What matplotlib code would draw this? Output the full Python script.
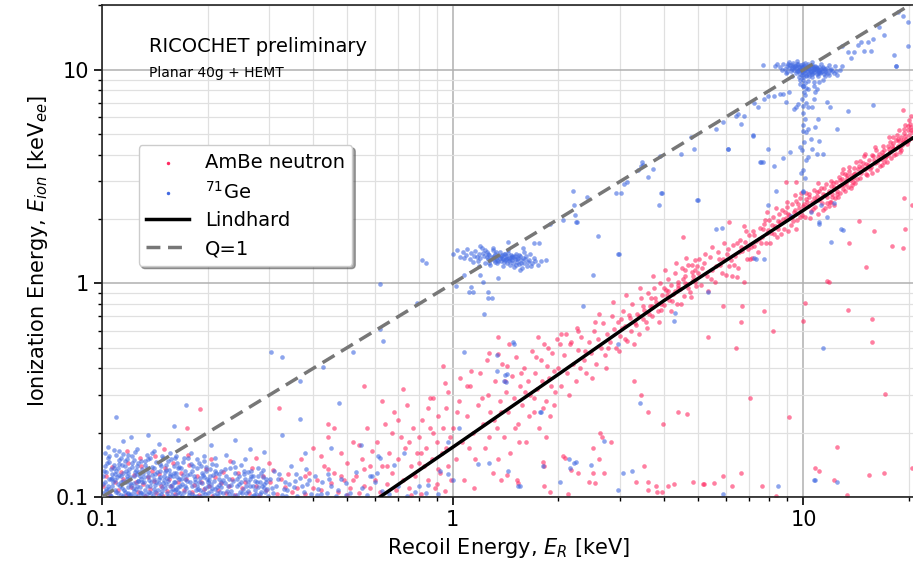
import numpy as np
import matplotlib
matplotlib.use('Agg')
import matplotlib.pyplot as plt
from matplotlib.ticker import FuncFormatter, LogLocator

# recoil energy [keV], ionization energy [keVee]

# AmBe neutron band, 10-20 keV
ambe_band_hi = [
    (10.1,2.05),(10.2,2.48),(10.3,2.31),(10.4,2.62),(10.5,2.18),(10.6,2.40),(10.7,2.75),(10.8,2.29),(10.9,2.56),(11.0,2.12),
    (11.1,2.47),(11.2,2.81),(11.3,2.38),(11.4,2.63),(11.5,2.25),(11.6,2.92),(11.7,2.55),(11.8,2.70),(11.9,2.41),(12.0,3.02),
    (12.1,2.61),(12.2,2.84),(12.3,2.50),(12.4,2.97),(12.5,2.72),(12.6,3.15),(12.7,2.66),(12.8,2.90),(12.9,3.08),(13.0,2.78),
    (13.1,3.24),(13.2,2.95),(13.3,3.12),(13.4,2.83),(13.5,3.35),(13.6,3.05),(13.7,3.21),(13.8,2.98),(13.9,3.48),(14.0,3.30),
    (14.2,3.07),(14.4,3.55),(14.6,3.28),(14.8,3.68),(15.0,3.42),(15.2,3.20),(15.4,3.79),(15.6,3.52),(15.8,3.95),(16.0,3.66),
    (16.2,3.40),(16.4,4.05),(16.6,3.81),(16.8,3.60),(17.0,4.20),(17.2,3.95),(17.4,4.38),(17.6,4.10),(17.8,3.85),(18.0,4.52),
    (18.2,4.25),(18.4,4.70),(18.6,4.40),(18.8,4.12),(19.0,4.85),(19.2,4.58),(19.4,5.05),(19.6,4.72),(19.8,5.25),(20.0,4.95),
    (20.2,5.40),(20.4,5.10),
    (10.15,2.65),(10.45,2.02),(10.75,2.52),(11.05,2.72),(11.35,2.20),(11.65,2.38),(11.95,2.85),(12.25,2.33),(12.55,2.55),
    (12.85,3.30),(13.15,2.70),(13.45,3.50),(13.75,2.88),(14.1,3.70),(14.5,3.10),(14.9,3.95),(15.3,3.60),(15.7,3.30),
    (16.1,4.20),(16.5,3.55),(16.9,4.40),(17.3,3.72),(17.7,4.60),(18.1,3.98),(18.5,4.95),(18.9,4.30),(19.3,5.30),(19.7,4.48),
    (20.1,5.60),(19.5,5.50),(18.7,5.20),(17.5,4.85),(19.2,6.50),(20.3,6.10),(8.9,2.97),(9.5,2.97),
    (10.05,2.35),(10.35,2.55),(10.65,2.22),(10.95,2.68),(11.25,2.50),(11.55,2.60),(11.85,2.30),(12.15,2.95),(12.45,2.62),(12.75,3.05),
    (13.05,2.88),(13.35,3.20),(13.65,2.80),(13.95,3.25),(14.3,3.42),(14.7,3.50),(15.1,3.62),(15.5,3.45),(15.9,3.78),(16.3,3.90),
    (16.7,4.10),(17.1,3.85),(17.5,4.25),(17.9,4.40),(18.3,4.05),(18.7,4.62),(19.1,4.45),(19.5,4.90),(19.9,4.65),(20.3,5.25),
    (10.25,2.40),(10.85,2.45),(11.45,2.80),(12.05,2.55),(12.65,2.85),(13.25,3.00),(13.85,3.10),(14.45,3.75),(15.05,3.25),(15.65,4.00),
    (16.25,3.70),(16.85,4.00),(17.45,4.00),(18.05,4.30),(18.65,4.75),(19.25,4.70),(19.85,5.45),(20.45,4.80),(11.0,2.95),(12.0,2.40),
    (13.0,3.45),(14.0,2.95),(15.0,4.05),(16.0,4.35),(17.0,3.70),(18.0,4.85),(19.0,4.20),(20.0,5.80),
]

# AmBe neutron band, 2-10 keV
ambe_band_mid = [
    (5.0,1.12),(5.1,0.98),(5.2,1.25),(5.3,1.08),(5.4,1.33),(5.5,1.15),(5.6,1.02),(5.7,1.40),(5.8,1.22),(5.9,1.30),
    (6.0,1.10),(6.1,1.45),(6.2,1.28),(6.3,1.52),(6.4,1.35),(6.5,1.18),(6.6,1.60),(6.7,1.42),(6.8,1.56),(6.9,1.30),
    (7.0,1.68),(7.1,1.48),(7.2,1.75),(7.3,1.58),(7.4,1.40),(7.5,1.82),(7.6,1.65),(7.7,1.90),(7.8,1.55),(7.9,1.78),
    (8.0,1.97),(8.1,1.72),(8.2,2.05),(8.3,1.85),(8.4,1.65),(8.5,2.12),(8.6,1.93),(8.7,2.20),(8.8,1.80),(8.9,2.02),
    (9.0,2.28),(9.1,2.08),(9.2,1.88),(9.3,2.35),(9.4,2.15),(9.5,2.42),(9.6,1.98),(9.7,2.25),(9.8,2.50),(9.9,2.10),
    (5.05,1.30),(5.35,0.92),(5.65,1.20),(5.95,1.55),(6.25,1.08),(6.55,1.40),(6.85,1.75),(7.15,1.32),(7.45,1.62),
    (7.75,1.98),(8.05,1.55),(8.35,2.25),(8.65,1.70),(8.95,2.40),(9.25,2.05),(9.55,1.80),(9.85,2.65),(6.15,1.20),
    (7.25,1.50),(8.45,1.95),(9.45,2.60),(5.5,1.48),(6.75,1.85),(7.85,2.15),(9.05,1.75),
    (5.15,1.18),(5.45,1.05),(5.75,1.30),(6.05,1.38),(6.35,1.22),(6.65,1.48),(6.95,1.45),(7.25,1.68),(7.55,1.55),(7.85,1.72),
    (8.15,1.88),(8.45,1.80),(8.75,2.00),(9.05,2.12),(9.35,1.95),(9.65,2.35),(9.95,2.30),(5.25,1.38),(5.85,1.12),(6.45,1.55),
    (7.05,1.30),(7.65,1.80),(8.25,1.70),(8.85,2.15),(9.45,2.20),(9.75,2.05),
    (2.00,0.40),(2.04,0.33),(2.08,0.46),(2.12,0.38),(2.16,0.52),(2.20,0.42),(2.24,0.35),(2.28,0.49),(2.32,0.56),(2.36,0.44),
    (2.40,0.38),(2.44,0.53),(2.48,0.47),(2.52,0.60),(2.56,0.42),(2.60,0.55),(2.64,0.50),(2.68,0.65),(2.72,0.46),(2.76,0.58),
    (2.80,0.53),(2.84,0.70),(2.88,0.61),(2.92,0.50),(2.96,0.66),(3.00,0.57),(3.05,0.74),(3.10,0.63),(3.15,0.54),(3.20,0.69),
    (3.25,0.80),(3.30,0.65),(3.35,0.72),(3.40,0.58),(3.45,0.85),(3.50,0.75),(3.55,0.66),(3.60,0.90),(3.65,0.78),(3.70,0.70),
    (3.75,0.95),(3.80,0.82),(3.85,0.74),(3.90,1.00),(3.95,0.88),(4.00,0.79),(4.05,0.93),(4.10,1.05),(4.15,0.84),(4.20,0.98),
    (4.25,0.89),(4.30,1.12),(4.35,0.80),(4.40,1.02),(4.45,0.94),(4.50,1.18),(4.55,0.87),(4.60,1.08),(4.65,0.99),(4.70,1.22),
    (4.75,0.91),(4.80,1.13),(4.85,1.04),(4.90,1.28),(4.95,0.97),
    (2.02,0.52),(2.14,0.30),(2.26,0.62),(2.38,0.48),(2.50,0.36),(2.62,0.72),(2.74,0.40),(2.86,0.82),(2.98,0.48),(3.12,0.88),
    (3.28,0.52),(3.42,0.95),(3.58,0.62),(3.72,1.08),(3.88,0.66),(4.02,1.15),(4.18,0.74),(4.32,1.25),(4.48,0.80),(4.62,1.32),
    (4.78,0.86),(4.92,1.15),(2.10,0.58),(2.30,0.40),(2.55,0.66),(2.78,0.50),(3.02,0.68),(3.22,0.60),(3.48,0.68),(3.68,0.85),
    (3.92,0.80),(4.12,0.92),(4.38,0.95),(4.58,1.00),(4.82,1.22),(2.03,0.58),(2.27,0.60),(2.17,0.53),(4.53,1.64),(6.13,1.93),
    (3.03,0.62),(3.18,0.71),(3.33,0.64),(3.48,0.78),(3.63,0.72),(3.78,0.85),(3.93,0.75),(4.08,0.88),(4.23,0.83),(4.38,0.98),
    (4.53,1.05),(4.68,0.95),(4.83,1.08),(4.97,1.20),(3.10,0.55),(3.40,0.70),(3.70,0.78),(4.00,0.95),(4.30,0.92),(4.60,1.15),
    (4.90,1.02),
]

# AmBe neutron, 0.1-2 keV
ambe_low = [
    (1.00,0.21),(1.02,0.15),(1.04,0.28),(1.06,0.18),(1.08,0.12),(1.10,0.24),(1.12,0.33),(1.14,0.20),(1.16,0.15),(1.18,0.27),
    (1.20,0.38),(1.22,0.22),(1.24,0.17),(1.26,0.30),(1.28,0.25),(1.30,0.13),(1.32,0.35),(1.34,0.21),(1.36,0.28),(1.38,0.42),
    (1.40,0.19),(1.42,0.31),(1.44,0.25),(1.46,0.16),(1.48,0.37),(1.50,0.29),(1.52,0.45),(1.54,0.22),(1.56,0.33),(1.58,0.27),
    (1.60,0.40),(1.62,0.18),(1.64,0.35),(1.66,0.30),(1.68,0.48),(1.70,0.25),(1.72,0.38),(1.74,0.32),(1.76,0.21),(1.78,0.44),
    (1.80,0.35),(1.82,0.52),(1.84,0.28),(1.86,0.41),(1.88,0.36),(1.90,0.24),(1.92,0.47),(1.94,0.39),(1.96,0.31),(1.98,0.55),
    (1.05,0.36),(1.15,0.11),(1.25,0.44),(1.35,0.15),(1.45,0.52),(1.55,0.18),(1.65,0.24),(1.75,0.56),(1.85,0.19),(1.95,0.27),
    (1.11,0.17),(1.21,0.29),(1.31,0.23),(1.41,0.35),(1.51,0.21),(1.61,0.31),(1.71,0.29),(1.81,0.26),(1.91,0.33),(1.03,0.25),
    (1.13,0.39),(1.27,0.19),(1.43,0.41),(1.57,0.38),(1.73,0.45),(1.87,0.50),(1.35,0.465),(1.27,0.47),(1.35,0.56),(0.94,0.41),
    (1.10,0.33),(0.97,0.31),(0.88,0.29),(0.56,0.33),(0.44,0.22),(0.32,0.26),(0.175,0.21),
    (0.60,0.12),(0.61,0.18),(0.62,0.105),(0.63,0.14),(0.64,0.22),(0.65,0.115),(0.66,0.16),(0.67,0.13),(0.68,0.25),(0.69,0.108),
    (0.70,0.15),(0.71,0.19),(0.72,0.12),(0.73,0.17),(0.74,0.27),(0.75,0.11),(0.76,0.14),(0.77,0.21),(0.78,0.125),(0.79,0.16),
    (0.80,0.19),(0.81,0.103),(0.82,0.23),(0.83,0.14),(0.84,0.17),(0.85,0.12),(0.86,0.29),(0.87,0.15),(0.88,0.20),(0.89,0.11),
    (0.90,0.18),(0.91,0.24),(0.92,0.13),(0.93,0.16),(0.94,0.21),(0.95,0.107),(0.96,0.26),(0.97,0.14),(0.98,0.19),(0.99,0.12),
    (0.63,0.28),(0.67,0.20),(0.72,0.32),(0.76,0.102),(0.81,0.16),(0.86,0.21),(0.91,0.135),(0.96,0.17),(0.65,0.14),(0.70,0.23),
    (0.75,0.18),(0.80,0.145),(0.85,0.26),(0.90,0.115),(0.95,0.34),
    (0.36,0.11),(0.37,0.15),(0.38,0.103),(0.39,0.13),(0.40,0.17),(0.41,0.12),(0.42,0.108),(0.43,0.14),(0.44,0.19),(0.45,0.116),
    (0.46,0.13),(0.47,0.105),(0.48,0.16),(0.49,0.12),(0.50,0.145),(0.51,0.11),(0.52,0.18),(0.53,0.125),(0.54,0.104),(0.55,0.15),
    (0.56,0.135),(0.57,0.21),(0.58,0.11),(0.59,0.165),(0.38,0.125),(0.42,0.155),(0.46,0.21),(0.50,0.102),(0.54,0.175),(0.58,0.14),
    (0.40,0.11),(0.48,0.125),(0.56,0.112),(0.44,0.135),(0.52,0.12),
    (0.101,0.112),(0.103,0.125),(0.105,0.103),(0.107,0.138),(0.109,0.117),(0.111,0.108),(0.113,0.131),(0.115,0.121),(0.117,0.102),(0.119,0.145),
    (0.121,0.111),(0.123,0.127),(0.125,0.118),(0.127,0.106),(0.129,0.139),(0.131,0.115),(0.133,0.101),(0.135,0.124),(0.137,0.109),(0.139,0.133),
    (0.141,0.119),(0.143,0.104),(0.145,0.128),(0.147,0.113),(0.149,0.101),(0.151,0.136),(0.153,0.107),(0.155,0.122),(0.157,0.112),(0.159,0.145),
    (0.162,0.103),(0.165,0.117),(0.168,0.129),(0.171,0.108),(0.174,0.121),(0.177,0.141),(0.180,0.105),(0.183,0.114),(0.186,0.126),(0.189,0.102),
    (0.192,0.118),(0.195,0.109),(0.198,0.135),(0.202,0.112),(0.206,0.101),(0.210,0.124),(0.214,0.108),(0.218,0.116),(0.222,0.131),(0.226,0.104),
    (0.230,0.113),(0.235,0.122),(0.240,0.102),(0.245,0.129),(0.250,0.110),(0.256,0.118),(0.262,0.104),(0.268,0.137),(0.274,0.112),(0.280,0.101),
    (0.287,0.125),(0.294,0.108),(0.301,0.117),(0.308,0.134),(0.316,0.103),(0.324,0.121),(0.332,0.111),(0.340,0.128),(0.348,0.105),
    (0.118,0.165),(0.142,0.155),(0.176,0.158),(0.190,0.258),(0.205,0.150),(0.232,0.148),(0.275,0.152),(0.300,0.145),(0.150,0.168),(0.128,0.152),
]

# AmBe events well below the band
ambe_stray = [
    (6.76,1.02),(6.45,1.07),(11.7,1.03),(10.1,0.81),(9.97,0.67),(7.73,0.74),(6.7,0.78),(6.63,0.66),(5.89,0.78),(5.34,0.56),
    (6.42,0.50),(8.19,0.60),(13.4,0.75),(15.7,0.68),(15.7,0.53),(15.1,1.19),(13.5,1.54),(14.4,1.95),(15.9,1.75),(17.9,1.50),
    (19.2,1.47),(19.5,1.79),(19.3,2.50),(20.4,2.34),(17.1,0.305),(7.03,0.29),(9.1,0.236),(12.5,0.172),(10.8,0.137),(11.1,0.132),
    (15.4,0.127),(17.0,0.13),(20.4,0.136),(6.63,0.13),(6.25,0.113),(5.89,0.125),(5.55,0.116),(5.17,0.115),(7.62,0.112),(12.2,0.12),
    (13.3,0.102),(11.8,1.02),(4.65,0.244),(4.38,0.249),(3.97,0.22),(3.6,0.25),(3.44,0.30),(3.28,0.35),(3.5,0.14),(3.33,0.118),
    (3.6,0.117),(3.79,0.112),(3.95,0.106),(4.1,0.112),(4.27,0.115),(4.84,0.117),(5.2,0.115),(2.63,0.20),(2.66,0.19),(2.82,0.18),
    (2.61,0.15),(2.51,0.17),(2.51,0.13),(2.44,0.118),(2.54,0.116),(2.7,0.13),(2.06,0.155),(2.09,0.153),(2.17,0.134),(2.27,0.13),
    (1.82,0.112),(1.90,0.106),(2.13,0.103),(1.53,0.12),(1.54,0.116),(1.37,0.12),(1.43,0.127),(1.81,0.146),(1.82,0.139),(3.6,0.108),
    (3.82,0.106),(1.37,0.249),(8.36,0.101),
]

# 71Ge activation: low-energy noise blob
ge_low = [
    (0.101,0.104),(0.102,0.118),(0.103,0.131),(0.104,0.112),(0.105,0.146),(0.106,0.101),(0.107,0.123),(0.108,0.137),(0.109,0.108),(0.110,0.158),
    (0.111,0.115),(0.112,0.127),(0.113,0.102),(0.114,0.141),(0.115,0.119),(0.116,0.106),(0.117,0.133),(0.118,0.151),(0.119,0.111),(0.120,0.124),
    (0.121,0.103),(0.122,0.138),(0.123,0.116),(0.124,0.162),(0.125,0.109),(0.126,0.128),(0.127,0.144),(0.128,0.105),(0.129,0.121),(0.130,0.135),
    (0.101,0.126),(0.102,0.140),(0.104,0.152),(0.105,0.109),(0.107,0.113),(0.108,0.166),(0.110,0.132),(0.111,0.104),(0.113,0.125),(0.114,0.110),
    (0.116,0.147),(0.117,0.117),(0.119,0.129),(0.120,0.102),(0.122,0.155),(0.123,0.107),(0.125,0.134),(0.126,0.113),(0.128,0.126),(0.129,0.148),
    (0.103,0.107),(0.106,0.135),(0.109,0.120),(0.112,0.143),(0.115,0.101),(0.118,0.126),(0.121,0.114),(0.124,0.131),(0.127,0.101),(0.130,0.117),
    (0.102,0.161),(0.106,0.122),(0.111,0.137),(0.115,0.159),(0.119,0.104),(0.123,0.149),(0.127,0.119),(0.104,0.172),(0.109,0.128),(0.113,0.153),
    (0.131,0.103),(0.132,0.124),(0.133,0.141),(0.134,0.112),(0.135,0.131),(0.136,0.106),(0.137,0.153),(0.138,0.118),(0.139,0.127),(0.140,0.101),
    (0.141,0.137),(0.142,0.114),(0.143,0.146),(0.144,0.108),(0.145,0.122),(0.146,0.132),(0.147,0.103),(0.148,0.156),(0.149,0.116),(0.150,0.126),
    (0.151,0.110),(0.152,0.141),(0.153,0.104),(0.154,0.119),(0.155,0.134),(0.156,0.112),(0.157,0.150),(0.158,0.102),(0.159,0.125),(0.160,0.139),
    (0.161,0.108),(0.162,0.117),(0.163,0.130),(0.164,0.145),(0.165,0.105),(0.166,0.121),(0.167,0.113),(0.168,0.136),(0.169,0.101),(0.170,0.127),
    (0.133,0.108),(0.136,0.120),(0.139,0.160),(0.142,0.128),(0.145,0.102),(0.148,0.111),(0.151,0.131),(0.154,0.147),(0.157,0.107),(0.160,0.118),
    (0.163,0.102),(0.166,0.138),(0.169,0.115),(0.134,0.136),(0.138,0.104),(0.143,0.118),(0.147,0.140),(0.152,0.115),(0.156,0.128),(0.161,0.152),
    (0.165,0.111),(0.135,0.150),(0.141,0.109),(0.146,0.124),(0.153,0.123),(0.159,0.109),(0.164,0.124),
    (0.171,0.106),(0.173,0.133),(0.175,0.119),(0.177,0.102),(0.179,0.143),(0.181,0.112),(0.183,0.126),(0.185,0.108),(0.187,0.137),(0.189,0.117),
    (0.191,0.101),(0.193,0.129),(0.195,0.148),(0.197,0.110),(0.199,0.121),(0.201,0.104),(0.203,0.135),(0.205,0.115),(0.207,0.127),(0.209,0.102),
    (0.211,0.141),(0.213,0.111),(0.215,0.122),(0.217,0.106),(0.219,0.132),(0.172,0.121),(0.176,0.152),(0.180,0.103),(0.184,0.117),(0.188,0.109),
    (0.192,0.140),(0.196,0.124),(0.200,0.113),(0.204,0.107),(0.208,0.119),(0.212,0.129),(0.216,0.114),(0.174,0.110),(0.178,0.128),(0.182,0.139),
    (0.186,0.101),(0.190,0.123),(0.194,0.106),(0.198,0.133),(0.202,0.120),(0.206,0.143),(0.210,0.109),(0.214,0.101),(0.218,0.118),
    (0.222,0.104),(0.225,0.125),(0.228,0.113),(0.231,0.137),(0.234,0.107),(0.237,0.119),(0.240,0.129),(0.243,0.102),(0.246,0.115),(0.249,0.141),
    (0.252,0.109),(0.255,0.122),(0.258,0.104),(0.261,0.131),(0.264,0.113),(0.267,0.101),(0.270,0.126),(0.273,0.108),(0.276,0.118),(0.279,0.136),
    (0.282,0.103),(0.285,0.112),(0.288,0.124),(0.291,0.106),(0.294,0.117),(0.297,0.101),(0.224,0.116),(0.230,0.103),(0.236,0.146),(0.242,0.121),
    (0.248,0.106),(0.254,0.133),(0.260,0.118),(0.266,0.125),(0.272,0.102),(0.278,0.111),(0.284,0.130),(0.290,0.115),(0.296,0.109),
    (0.302,0.121),(0.308,0.104),(0.314,0.113),(0.320,0.128),(0.326,0.102),(0.332,0.117),(0.338,0.108),(0.345,0.139),(0.352,0.111),(0.360,0.101),
    (0.368,0.123),(0.376,0.106),(0.385,0.115),(0.394,0.103),(0.404,0.126),(0.414,0.109),(0.425,0.118),(0.437,0.104),(0.450,0.112),(0.465,0.101),
    (0.480,0.121),(0.310,0.132),(0.330,0.109),(0.356,0.119),(0.382,0.135),(0.410,0.102),(0.440,0.128),(0.470,0.108),(0.495,0.116),
    (0.51,0.104),(0.53,0.131),(0.55,0.110),(0.57,0.102),(0.60,0.118),(0.63,0.107),(0.66,0.103),(0.70,0.112),(0.74,0.101),(0.58,0.125),
    (0.68,0.141),(0.62,0.152),(0.78,0.106),(0.85,0.114),(0.92,0.133),(0.97,0.128),
    (0.110,0.238),(0.174,0.271),(0.121,0.190),(0.160,0.215),(0.303,0.475),(0.327,0.45),(0.428,0.404),(0.368,0.351),(0.368,0.233),(0.473,0.274),
    (0.519,0.475),(0.619,0.99),(0.619,0.61),(0.632,0.535),(0.327,0.196),(0.165,0.185),(0.145,0.178),(0.205,0.175),(0.115,0.182),(0.135,0.195),
    (0.240,0.185),(0.265,0.168),(0.290,0.163),(0.45,0.17),(0.38,0.16),
    (0.1005,0.115),(0.1015,0.133),(0.1025,0.109),(0.1035,0.145),(0.1045,0.121),(0.1055,0.102),(0.1065,0.128),(0.1075,0.117),(0.1085,0.141),(0.1095,0.105),
    (0.1105,0.124),(0.1115,0.149),(0.1125,0.112),(0.1135,0.118),(0.1145,0.130),(0.1155,0.108),(0.1165,0.139),(0.1175,0.122),(0.1185,0.103),(0.1195,0.135),
    (0.1205,0.116),(0.1215,0.144),(0.1225,0.110),(0.1235,0.125),(0.1245,0.102),(0.1255,0.140),(0.1265,0.119),(0.1275,0.131),(0.1285,0.111),(0.1295,0.104),
    (0.1305,0.129),(0.1315,0.118),(0.1325,0.147),(0.1345,0.103),(0.1355,0.125),(0.1375,0.112),(0.1385,0.138),(0.1405,0.121),(0.1415,0.105),(0.1435,0.131),
    (0.1455,0.116),(0.1465,0.143),(0.1485,0.107),(0.1505,0.120),(0.1525,0.134),(0.1545,0.101),(0.1565,0.125),(0.1585,0.114),(0.1605,0.130),(0.1625,0.109),
    (0.1645,0.137),(0.1665,0.104),(0.1685,0.122),(0.1705,0.146),(0.1725,0.113),(0.1745,0.127),(0.1765,0.106),(0.1785,0.118),(0.1805,0.132),(0.1825,0.101),
    (0.1845,0.122),(0.1865,0.112),(0.1885,0.145),(0.1905,0.108),(0.1925,0.116),(0.1945,0.127),(0.1965,0.103),(0.1985,0.138),(0.2005,0.118),(0.2035,0.126),
    (0.2065,0.110),(0.2095,0.133),(0.2125,0.104),(0.2155,0.128),(0.2185,0.111),(0.2215,0.120),(0.2245,0.135),(0.2275,0.107),(0.2305,0.122),(0.2335,0.114),
    (0.2365,0.102),(0.2395,0.138),(0.2425,0.112),(0.2455,0.125),(0.2485,0.117),(0.2515,0.104),(0.2545,0.128),(0.2575,0.113),(0.2605,0.107),(0.2635,0.121),
    (0.2665,0.133),(0.2695,0.112),(0.2725,0.119),(0.2755,0.103),(0.2785,0.126),(0.2815,0.117),(0.2845,0.106),(0.2875,0.134),(0.2905,0.110),(0.2935,0.122),
    (0.105,0.156),(0.112,0.164),(0.119,0.157),(0.126,0.167),(0.134,0.158),(0.141,0.165),(0.149,0.152),(0.156,0.161),(0.163,0.156),(0.171,0.152),
    (0.179,0.160),(0.187,0.151),(0.196,0.155),(0.210,0.152),(0.225,0.158),(0.255,0.150),
    (0.305,0.110),(0.318,0.122),(0.335,0.101),(0.342,0.115),(0.358,0.128),(0.372,0.112),(0.390,0.120),(0.420,0.103),(0.445,0.122),
]

# 71Ge L-shell line (~1.3 keV)
ge_L = [
    (1.00,1.38),(1.03,1.43),(1.05,1.33),(1.07,1.40),(1.09,1.36),(1.10,1.45),(1.12,1.30),(1.13,1.39),(1.15,1.34),(1.16,1.42),
    (1.18,1.27),(1.19,1.37),(1.20,1.31),(1.21,1.46),(1.23,1.35),(1.24,1.25),(1.25,1.40),(1.26,1.30),(1.27,1.36),(1.28,1.22),
    (1.29,1.33),(1.30,1.43),(1.31,1.28),(1.32,1.38),(1.33,1.31),(1.34,1.24),(1.35,1.35),(1.36,1.41),(1.37,1.27),(1.38,1.32),
    (1.39,1.20),(1.40,1.37),(1.41,1.29),(1.42,1.34),(1.43,1.25),(1.44,1.39),(1.45,1.31),(1.46,1.22),(1.47,1.36),(1.48,1.28),
    (1.49,1.33),(1.50,1.19),(1.51,1.30),(1.52,1.38),(1.53,1.26),(1.54,1.32),(1.55,1.23),(1.56,1.35),(1.57,1.28),(1.58,1.18),
    (1.59,1.31),(1.60,1.25),(1.62,1.34),(1.63,1.21),(1.65,1.29),(1.66,1.37),(1.68,1.24),(1.70,1.31),(1.72,1.27),(1.75,1.22),
    (1.14,1.26),(1.17,1.33),(1.22,1.39),(1.25,1.33),(1.28,1.29),(1.31,1.35),(1.33,1.40),(1.35,1.27),(1.37,1.34),(1.39,1.30),
    (1.41,1.37),(1.43,1.32),(1.45,1.27),(1.47,1.33),(1.49,1.24),(1.51,1.35),(1.53,1.30),(1.55,1.36),(1.57,1.25),(1.61,1.30),
    (1.64,1.26),(1.36,1.31),(1.30,1.32),(1.42,1.30),(1.26,1.37),(1.46,1.29),(1.34,1.29),(1.38,1.36),(1.40,1.26),(1.32,1.26),
    (1.48,1.35),(1.52,1.22),(1.27,1.25),(1.60,1.40),(1.24,1.44),(1.44,1.43),(1.56,1.16),(1.19,1.21),(1.08,1.31),(1.67,1.20),
    (0.82,1.28),(0.84,1.24),(1.20,1.49),(1.30,1.47),(1.44,1.57),(1.70,1.54),(1.76,1.54),(1.59,1.47),(1.78,1.27),(1.84,1.28),
]

# 71Ge K-shell line (~10.4 keV)
ge_K = [
    (8.60,10.3),(8.75,10.6),(8.85,10.1),(8.95,10.4),(9.05,10.7),(9.10,10.2),(9.20,9.9),(9.25,10.5),(9.30,10.3),(9.35,10.8),
    (9.40,10.0),(9.45,10.4),(9.50,9.7),(9.55,10.2),(9.60,10.6),(9.65,9.9),(9.70,10.35),(9.75,10.1),(9.80,9.6),(9.85,10.5),
    (9.90,10.0),(9.95,10.25),(10.0,9.8),(10.05,10.45),(10.1,10.1),(10.15,9.5),(10.2,10.3),(10.25,9.9),(10.3,10.6),(10.35,10.05),
    (10.4,9.75),(10.45,10.4),(10.5,10.15),(10.55,9.6),(10.6,10.5),(10.65,9.95),(10.7,10.25),(10.75,9.8),(10.8,10.4),(10.85,10.0),
    (10.9,9.55),(10.95,10.2),(11.0,9.85),(11.1,10.3),(11.15,9.7),(11.2,10.05),(11.3,9.9),(11.35,10.35),(11.45,9.6),(11.5,10.1),
    (11.6,9.8),(11.7,10.2),(11.8,9.5),(11.9,9.95),(12.0,10.1),(12.2,9.7),(12.4,9.9),(12.7,10.0),(8.70,10.0),(9.00,9.8),
    (9.15,10.55),(9.28,10.05),(9.42,10.25),(9.58,9.85),(9.68,10.7),(9.78,10.3),(9.88,9.75),(9.98,10.6),(10.08,9.65),(10.18,10.15),
    (10.28,10.4),(10.38,9.55),(10.48,9.9),(10.58,10.3),(10.68,9.7),(10.78,10.1),(10.88,10.35),(10.98,9.65),(11.08,10.0),(11.25,9.75),
    (11.4,10.2),(11.55,9.9),(11.75,9.65),(12.1,9.85),(9.5,10.45),(9.9,10.35),(10.3,10.2),(10.7,10.05),(11.1,9.8),(9.7,10.0),
    (10.1,9.95),(10.5,9.8),(10.9,10.1),(10.2,9.35),(10.0,9.3),(10.4,9.4),(9.9,9.45),(12.5,9.5),(12.9,10.4),(8.4,10.6),
    (7.67,10.5),(8.3,10.4),(9.1,10.9),(9.6,11.0),(10.1,10.8),(10.6,10.85),(11.2,10.6),(11.8,10.5),(9.3,9.4),(9.7,9.3),
    (10.6,9.3),(11.0,9.4),(11.5,9.35),(12.3,10.4),(8.9,9.7),
]

# 71Ge tails and events near the Q=1 line
ge_other = [
    (10.0,9.0),(10.1,8.7),(9.95,8.4),(10.2,8.2),(10.05,7.9),(10.1,7.6),(9.9,7.3),(10.15,7.0),(10.3,8.9),(9.8,8.6),
    (10.0,6.3),(10.1,5.9),(9.95,5.5),(10.2,5.1),(10.05,4.6),(9.9,4.2),(10.15,3.8),(10.0,3.4),(10.1,3.1),(9.85,3.3),
    (6.5,6.2),(6.63,5.55),(7.18,4.94),(7.23,6.96),(7.73,7.26),(8.22,7.50),(8.74,7.67),(9.1,7.84),(7.93,4.24),(7.67,3.69),
    (8.22,3.53),(8.74,3.85),(9.15,4.11),(9.8,4.33),(9.97,5.16),(10.3,5.27),(10.5,4.72),(10.8,5.38),(11.0,5.87),(11.1,4.63),
    (10.9,4.02),(11.4,4.02),(10.3,3.89),(10.6,4.24),(9.97,6.74),(10.3,6.67),(10.6,6.67),(9.67,6.89),(9.4,6.52),(10.7,7.26),
    (10.8,7.84),(10.7,8.37),(10.9,8.1),(11.7,7.04),(11.9,6.67),(12.5,5.27),(13.4,6.39),(15.8,6.82),(18.1,11.7),(18.3,10.4),
    (15.6,12.2),(14.9,12.2),(15.3,13.5),(14.3,13.1),(13.4,12.1),(12.9,12.9),(13.7,11.4),(9.8,9.0),(10.0,8.37),(10.3,8.1),
    (10.7,8.73),(11.1,8.73),(11.4,9.0),(18.6,18.6),(19.2,17.8),(19.8,16.8),(18.4,10.4),(19.8,12.9),(17.0,14.6),(16.4,15.9),
    (15.8,13.9),(14.6,13.5),(13.9,12.1),(8.6,7.67),(7.93,7.50),(8.9,7.04),(9.5,6.67),(7.4,6.67),(6.76,6.05),(7.18,4.88),
    (6.09,4.24),(7.58,3.69),(5.63,5.27),(6.42,6.05),(5.89,5.67),(4.77,4.83),(5.0,2.47),(3.92,2.66),(3.87,2.34),(3.44,3.53),
    (2.95,1.38),(2.20,2.72),(2.21,2.34),(2.26,1.93),(2.59,1.66),(2.97,1.38),(2.51,1.09),(3.95,2.66),(4.97,2.45),(6.09,4.24),
    (7.52,3.69),(2.92,2.66),(3.01,2.66),(3.07,2.91),(3.15,2.97),(3.46,3.72),(3.48,3.57),(3.37,3.38),(3.60,3.14),(3.72,3.45),
    (3.90,3.93),(4.47,4.02),(4.87,4.24),(2.23,2.10),(2.41,2.53),(2.24,1.93),(1.90,1.89),(2.06,1.99),
    (1.22,1.01),(1.20,1.10),(1.35,1.06),(1.13,0.96),(1.11,0.91),(1.14,0.91),(1.26,0.91),(1.26,0.85),(1.29,0.85),(1.23,0.72),
    (1.02,0.97),(1.08,1.09),(0.79,0.81),(1.49,0.53),(1.075,0.475),(1.34,0.46),(1.50,0.52),(1.40,0.348),(1.43,0.375),(1.34,0.387),
    (1.04,0.21),(0.968,0.18),(0.547,0.175),(0.612,0.155),(0.725,0.16),(0.80,0.113),(0.84,0.104),(0.906,0.103),(1.0,0.12),(1.18,0.142),
    (1.27,0.145),(1.56,0.112),(1.78,0.25),(2.02,0.118),(2.16,0.136),(2.21,0.145),(1.81,0.139),(0.59,0.125),(0.495,0.102),(0.61,0.13),
    (2.35,0.78),(1.41,0.371),(1.42,0.344),(1.77,0.25),(3.41,0.274),(2.95,0.52),(2.70,0.182),(2.48,0.141),(2.25,0.146),(2.14,0.15),
    (1.44,0.132),(1.54,0.112),(2.95,0.108),(3.06,0.129),(3.24,0.132),(4.30,0.73),(4.27,0.67),(5.34,0.91),(5.89,0.103),(8.44,0.112),
    (10.7,0.12),(12.5,0.118),(11.4,0.5),(5.86,1.81),(7.32,1.30),(7.73,1.30),(7.93,2.32),(8.36,2.70),(10.0,2.70),(11.1,1.89),
    (11.7,2.04),(12.0,1.56),(13.0,1.77),(10.5,2.15),(11.2,2.34),(12.2,2.39),(10.8,0.12),(9.97,2.67),(7.23,1.32),(9.2,2.06),
    (5.63,1.79),(12.8,1.79),(11.1,1.93),
]

# Lindhard quenching curve and Q=1 reference
lindhard_x = [0.62, 1.0, 2.0, 4.0, 10.0, 20.9]
lindhard_y = [0.1, 0.171, 0.375, 0.83, 2.2, 4.9]
q1_x = [0.1, 20.9]
q1_y = [0.1, 20.9]

ambe = np.array(ambe_band_hi + ambe_band_mid + ambe_low + ambe_stray)
ge = np.array(ge_low + ge_L + ge_K + ge_other)

fig = plt.figure(figsize=(9.13, 5.64), dpi=100)
ax = fig.add_axes([0.1117, 0.1188, 0.8913, 0.8723])

red = '#ff2a62'
blue = '#4169e1'
ax.scatter(ambe[:, 0], ambe[:, 1], s=11, c=red, alpha=0.6, linewidths=0,
           label='AmBe neutron', zorder=2)
ax.scatter(ge[:, 0], ge[:, 1], s=11, c=blue, alpha=0.6, linewidths=0,
           label=r'$^{71}$Ge', zorder=2)
ax.plot(lindhard_x, lindhard_y, color='black', lw=2.5, label='Lindhard', zorder=3)
ax.plot(q1_x, q1_y, color='#777777', lw=2.5, ls=(0, (4, 2.2)), label='Q=1', zorder=3)

ax.set_xscale('log')
ax.set_yscale('log')
ax.set_xlim(0.1, 20.9)
ax.set_ylim(0.1, 20.1)

fmt = FuncFormatter(lambda v, _: f'{v:g}')
ax.xaxis.set_major_formatter(fmt)
ax.yaxis.set_major_formatter(fmt)
ax.xaxis.set_minor_formatter(FuncFormatter(lambda v, _: ''))
ax.yaxis.set_minor_formatter(FuncFormatter(lambda v, _: ''))
ax.xaxis.set_minor_locator(LogLocator(base=10, subs=np.arange(2, 10)))
ax.yaxis.set_minor_locator(LogLocator(base=10, subs=np.arange(2, 10)))
ax.tick_params(which='major', labelsize=15, length=6, width=1.2)
ax.tick_params(which='minor', length=3, width=1)

ax.grid(which='major', color='#b0b0b0', lw=1.1)
ax.grid(which='minor', color='#e0e0e0', lw=0.9)
ax.set_axisbelow(True)
for sp in ax.spines.values():
    sp.set_color('#222222')
    sp.set_linewidth(1.2)

ax.set_xlabel(r'Recoil Energy, $E_R$ [keV]', fontsize=15)
ax.set_ylabel(r'Ionization Energy, $E_{ion}$ [keV$_{ee}$]', fontsize=15)

ax.text(0.058, 0.915, 'RICOCHET preliminary', transform=ax.transAxes,
        fontsize=14, va='center')
ax.text(0.058, 0.862, 'Planar 40g + HEMT', transform=ax.transAxes,
        fontsize=10, va='center')

leg = ax.legend(loc='upper left', bbox_to_anchor=(0.033, 0.735), fontsize=14,
                shadow=True, fancybox=True, framealpha=1, markerscale=0.75,
                handlelength=2.2, handletextpad=0.8, borderpad=0.4,
                labelspacing=0.45, edgecolor='#cccccc')
for h in leg.legend_handles[:2]:
    h.set_alpha(1)

fig.savefig('out.png', dpi=100)
